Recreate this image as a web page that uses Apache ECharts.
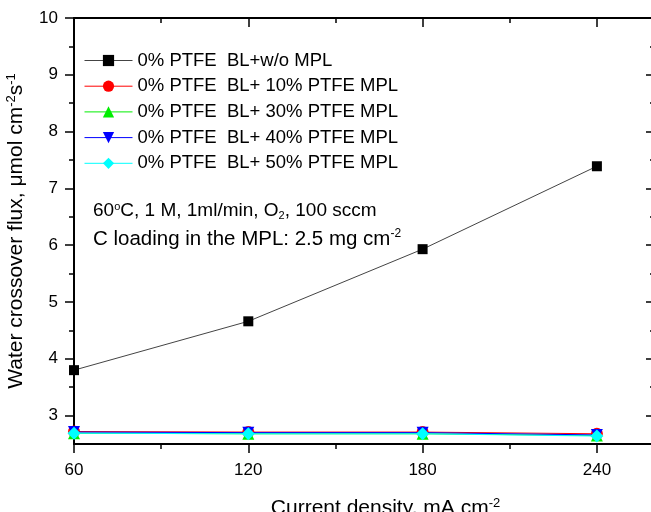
<!DOCTYPE html>
<html>
<head>
<meta charset="utf-8">
<script src="https://cdn.jsdelivr.net/npm/echarts@6/dist/echarts.min.js"></script>
<style>
  html, body { margin: 0; padding: 0; background: #fff; }
  #chart { width: 651px; height: 512px; }
</style>
</head>
<body>
<div id="chart"></div>
<script>
// current density, mA cm-2
var currentDensity = [60, 120, 180, 240];
// water crossover flux, umol cm-2 s-1
var noMpl  = [3.80, 4.66, 5.93, 7.39];
var mpl10  = [2.72, 2.71, 2.71, 2.68];
var mpl30  = [2.69, 2.68, 2.68, 2.65];
var mpl40  = [2.71, 2.70, 2.70, 2.66];
var mpl50  = [2.69, 2.68, 2.68, 2.64];

var seriesNames = [
    "0% PTFE  BL+w/o MPL",
    "0% PTFE  BL+ 10% PTFE MPL",
    "0% PTFE  BL+ 30% PTFE MPL",
    "0% PTFE  BL+ 40% PTFE MPL",
    "0% PTFE  BL+ 50% PTFE MPL"
];

// tick values
var xMajor = [60, 120, 180, 240];
var xMinor = [90, 150, 210];
var yMajor = [3, 4, 5, 6, 7, 8, 9, 10];
var yMinor = [3.5, 4.5, 5.5, 6.5, 7.5, 8.5, 9.5];

var FONT = "'Liberation Sans', Arial, sans-serif";
var X_MIN = 60, X_MAX = 260, Y_MIN = 2.5, Y_MAX = 10;

function pairs(ys) {
    return currentDensity.map(function (x, i) { return [x, ys[i]]; });
}

var sup = { fontSize: 13, fontFamily: FONT, color: "#000", padding: [0, 0, 10, 0] };

// one axis per tick set: major (long) and minor (short), plus mirrored ones
function xAxisOf(pos, ticks, len, inside, withLine, withLabels) {
    return {
        type: "value", position: pos, min: X_MIN, max: X_MAX,
        axisLine: { show: withLine, onZero: false, lineStyle: { color: "#000", width: 2 } },
        axisTick: { show: true, inside: inside, length: len, customValues: ticks,
                    lineStyle: { color: "#000", width: 1.5 } },
        axisLabel: withLabels ? { show: true, customValues: ticks, color: "#000", fontSize: 17,
                                  fontFamily: FONT, margin: 18 } : { show: false },
        splitLine: { show: false }
    };
}
function yAxisOf(pos, ticks, len, inside, withLine, withLabels) {
    return {
        type: "value", position: pos, min: Y_MIN, max: Y_MAX,
        axisLine: { show: withLine, onZero: false, lineStyle: { color: "#000", width: 2 } },
        axisTick: { show: true, inside: inside, length: len, customValues: ticks,
                    lineStyle: { color: "#000", width: 1.5 } },
        axisLabel: withLabels ? { show: true, customValues: ticks, color: "#000", fontSize: 17,
                                  fontFamily: FONT, margin: 16 } : { show: false },
        splitLine: { show: false }
    };
}

var xMain = xAxisOf("bottom", xMajor, 9, false, true, true);
xMain.name = "Current density, mA cm{sup|-2}";
xMain.nameLocation = "middle";
xMain.nameGap = 53;
xMain.nameTextStyle = { color: "#000", fontSize: 21, fontFamily: FONT, padding: [0, 0, 0, 42], rich: { sup: sup } };

var yMain = yAxisOf("left", yMajor, 9, false, true, true);
yMain.name = "Water crossover flux, \u03bcmol cm{sup|-2}s{sup|-1}";
yMain.nameLocation = "middle";
yMain.nameRotate = 90;
yMain.nameGap = 46;
yMain.nameTextStyle = { color: "#000", fontSize: 21, fontFamily: FONT, rich: { sup: sup } };

var markers = ["rect", "circle", "triangle", "path://M0,0 L10,0 L5,9 Z", "diamond"];
var colors = ["#000000", "#ff0000", "#00ee00", "#0000ff", "#00ffff"];
var lineColors = ["#444444", "#ff0000", "#00ee00", "#0000ff", "#00ffff"];
var sizes = [10, 12, 12, 12, 13];
var values = [noMpl, mpl10, mpl30, mpl40, mpl50];

var series = values.map(function (v, i) {
    return {
        name: seriesNames[i],
        type: "line",
        data: pairs(v),
        symbol: markers[i],
        symbolSize: sizes[i],
        showAllSymbol: true,
        clip: false,
        itemStyle: { color: colors[i] },
        lineStyle: { color: lineColors[i], width: 1 },
        z: 2 + i
    };
});

var chart = echarts.init(document.getElementById("chart"));
chart.setOption({
    backgroundColor: "#ffffff",
    animation: false,
    grid: { left: 74, right: -4, top: 18, bottom: 68, outerBoundsMode: "none", containLabel: false },
    legend: {
        orient: "vertical",
        left: 79,
        top: 46,
        itemWidth: 48,
        itemHeight: 14,
        itemGap: 6.7,
        data: seriesNames,
        lineStyle: { width: 1, color: "inherit" },
        textStyle: { color: "#000", fontSize: 18.5, fontFamily: FONT }
    },
    xAxis: [
        xMain,
        xAxisOf("bottom", xMinor, 5, false, false, false),
        xAxisOf("top", xMajor, 9, true, true, false),
        xAxisOf("top", xMinor, 5, true, false, false)
    ],
    yAxis: [
        yMain,
        yAxisOf("left", yMinor, 5, false, false, false),
        yAxisOf("right", yMajor, 9, true, true, false),
        yAxisOf("right", yMinor, 5, true, false, false)
    ],
    graphic: [
        {
            type: "text", left: 93, top: 201,
            style: {
                text: "60{sup|o}C, 1 M, 1ml/min, O{sub|2}, 100 sccm",
                fill: "#000", fontSize: 19, fontFamily: FONT,
                rich: { sup: { fontSize: 11, fontFamily: FONT, padding: [0, 0, 9, 0] },
                        sub: { fontSize: 11, fontFamily: FONT, padding: [10, 0, 0, 0] } }
            }
        },
        {
            type: "text", left: 93, top: 228,
            style: {
                text: "C loading in the MPL: 2.5 mg cm{sup|-2}",
                fill: "#000", fontSize: 20.5, fontFamily: FONT,
                rich: { sup: { fontSize: 12, fontFamily: FONT, padding: [0, 0, 11, 0] } }
            }
        }
    ],
    series: series
});
</script>
</body>
</html>
